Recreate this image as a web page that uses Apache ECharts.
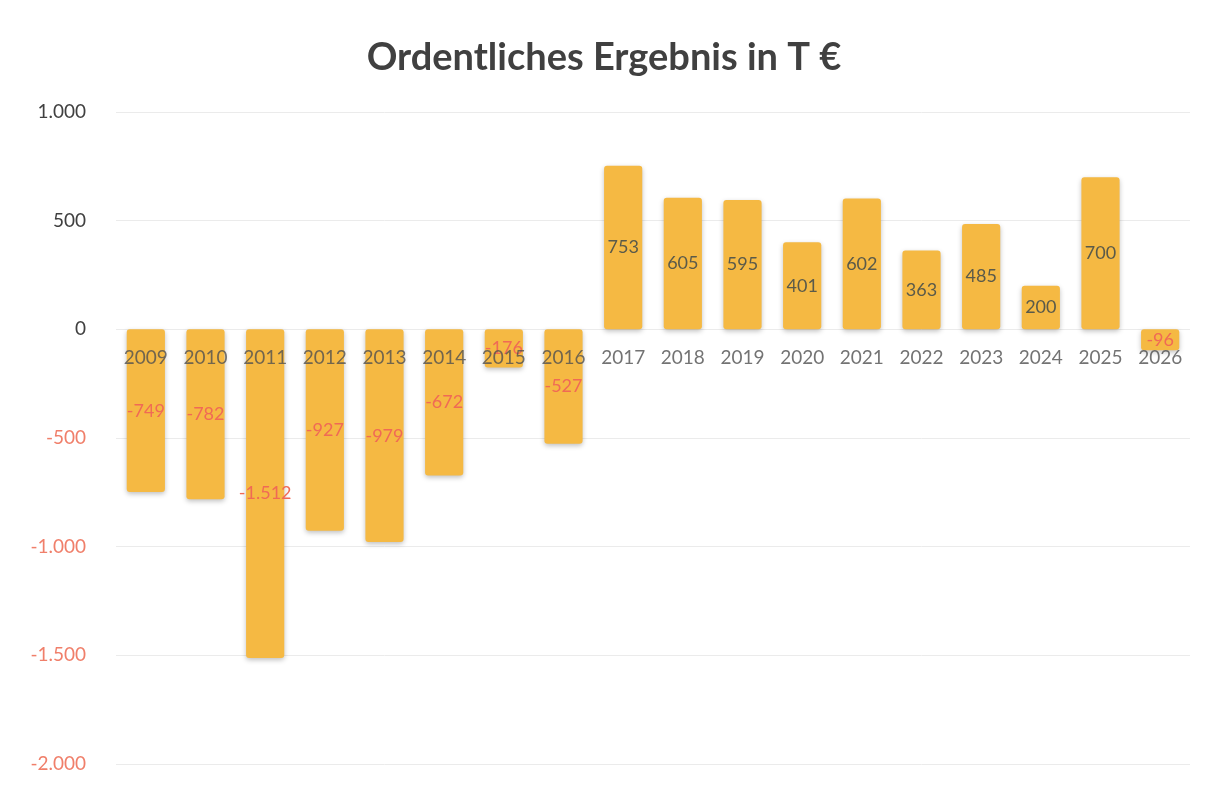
<!DOCTYPE html>
<html>
<head>
<meta charset="utf-8">
<script src="https://cdn.jsdelivr.net/npm/echarts@6/dist/echarts.min.js"></script>
<style>
  html, body { margin: 0; padding: 0; background: #fff; }
  #chart { width: 1208px; height: 787px; }
</style>
</head>
<body>
<div id="chart"></div>
<script>
// Ordentliches Ergebnis in T €
const title = 'Ordentliches Ergebnis in T €';
const years = ['2009', '2010', '2011', '2012', '2013', '2014', '2015', '2016', '2017',
    '2018', '2019', '2020', '2021', '2022', '2023', '2024', '2025', '2026'];
const values = [-749, -782, -1512, -927, -979, -672, -176, -527, 753,
    605, 595, 401, 602, 363, 485, 200, 700, -96];
const yTicks = [-2000, -1500, -1000, -500, 0, 500, 1000];

const formatNumber = function (num) {
    const s = Math.abs(num).toString().replace(/(?=(\B)(\d{3})+$)/g, '.');
    return (num < 0 ? '-' : '') + s;
};

const mychart = echarts.init(document.getElementById('chart'));
const option = {
    backgroundColor: '#fff',
    textStyle: { fontFamily: 'Lato' },
    title: {
        text: title,
        left: 'center',
        top: 34,
        textStyle: {
            fontSize: 38,
            fontWeight: 'bold',
            color: '#404040',
            fontFamily: 'Lato'
        }
    },
    grid: {
        left: 116,
        right: 18,
        top: 112,
        bottom: 23,
        containLabel: false
    },
    xAxis: {
        type: 'category',
        data: years,
        axisLine: { show: false },
        axisTick: { show: false },
        axisLabel: { show: false }
    },
    yAxis: {
        type: 'value',
        min: yTicks[0],
        max: yTicks[yTicks.length - 1],
        interval: 500,
        axisLine: { show: false },
        axisTick: { show: false },
        splitLine: { lineStyle: { color: '#ebebeb', width: 1 } },
        axisLabel: {
            fontSize: 19,
            margin: 30,
            formatter: function (v) { return formatNumber(v); },
            color: function (v) { return Number(v) < 0 ? '#f07f6a' : '#404040'; }
        }
    },
    series: [
        {
            type: 'bar',
            barWidth: '64%',
            z: 2,
            itemStyle: {
                color: '#f5b943',
                borderRadius: 3,
                shadowBlur: 5,
                shadowOffsetY: 2,
                shadowColor: 'rgba(0,0,0,0.25)'
            },
            label: {
                show: true,
                position: 'inside',
                fontSize: 18,
                formatter: function (p) { return formatNumber(p.value); }
            },
            labelLayout: { hideOverlap: false },
            data: values.map(function (v) {
                return {
                    value: v,
                    label: { color: v < 0 ? '#f06a55' : '#5a5a4a' }
                };
            })
        },
        {
            // category labels sitting on the zero line, above the bars
            type: 'scatter',
            symbolSize: 0,
            silent: true,
            z: 5,
            label: {
                show: true,
                position: 'bottom',
                distance: 19,
                fontSize: 19,
                color: '#505050',
                formatter: function (p) { return p.name; }
            },
            labelLayout: { hideOverlap: false },
            data: years.map(function (y) { return [y, 0]; })
        }
    ]
};
mychart.setOption(option, true);
</script>
</body>
</html>
